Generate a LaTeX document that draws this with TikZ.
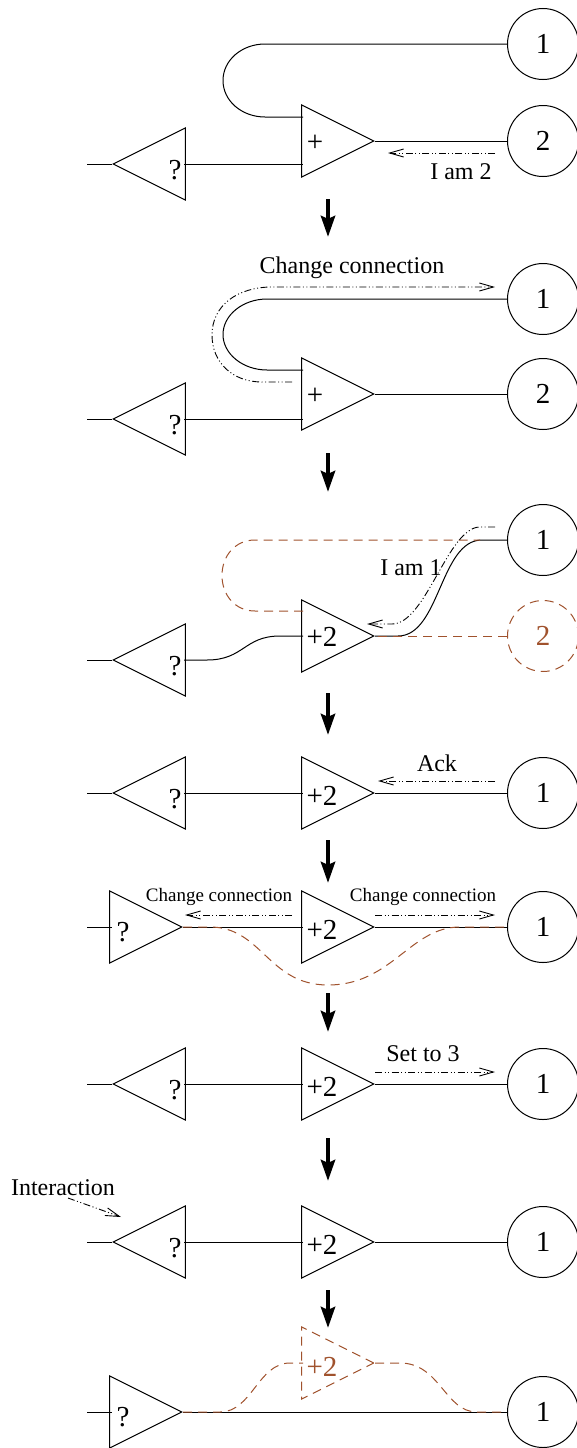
\documentclass[tikz,border=0pt]{standalone}
\usepackage{fontspec}
\setmainfont{Liberation Serif}
\usetikzlibrary{arrows.meta,shapes.geometric,calc}
\definecolor{fbrown}{RGB}{160,82,45}
\tikzset{
  wire/.style={line width=1pt},
  tri/.style={draw, line width=1pt, isosceles triangle, isosceles triangle stretches,
    minimum width=72pt, minimum height=72pt, inner sep=0pt, anchor=apex},
  trir/.style={tri, shape border rotate=0},
  tril/.style={tri, shape border rotate=180},
  circ/.style={draw, circle, line width=1pt, minimum size=71pt, inner sep=0pt,
    font=\fontsize{29}{30}\selectfont},
  lbl/.style={inner sep=0pt, font=\fontsize{29}{30}\selectfont},
  msgtext/.style={inner sep=0pt, font=\fontsize{24}{26}\selectfont},
  smalltext/.style={inner sep=0pt, font=\fontsize{19}{21}\selectfont},
  msg/.style={line width=0.9pt, dash pattern=on 7pt off 2.5pt on 1pt off 2.5pt on 1pt off 2.5pt,
    -{Straight Barb[length=14pt,width=8pt,line width=0.9pt]}},
  bdash/.style={draw=fbrown, line width=1pt, dash pattern=on 9pt off 6pt},
  bigarrow/.style={line width=4.5pt, -{Stealth[length=21pt,width=14pt,inset=3pt]}},
}
\begin{document}
\begin{tikzpicture}[x=1pt,y=-1pt]
\useasboundingbox (0,0) rectangle (577,1448);

% ---------- Panel 1 ----------
\node[circ] (c11) at (543,44) {1};
\node[circ] (c21) at (543,141) {2};
\node[trir] (p1) at (375,141) {};
\node[tril] (q1) at (112,164) {};
\node[lbl] (p1l) at (315,143) {+};
\node[lbl] (q1l) at (175,170) {?};
\coordinate (q1in) at (87,164);
\draw[wire] (q1in) -- (q1.apex);
\draw[wire] ($(q1.apex)+(72,0)$) -- ($(p1.apex)+(-72,23)$);
\draw[wire] (p1.apex) -- (c21.west);
\draw[wire] (c11.west) -- (265,44) .. controls (242,44) and (223,60) .. (223,80.5)
   .. controls (223,101) and (242,117) .. (265,117) -- ($(p1.apex)+(-72,-24)$);
\coordinate (m1s) at (495,153); \coordinate (m1e) at (388,153);
\draw[msg] (m1s) -- (m1e);
\node[msgtext] (m1l) at (461,172) {I am 2};
\coordinate (s1a) at (328,199); \coordinate (s1b) at (328,237);
\draw[bigarrow] (s1a) -- (s1b);

% ---------- Panel 2 ----------
\node[msgtext] (m2l) at (352,268) {Change connection};
\node[circ] (c12) at (543,299) {1};
\node[circ] (c22) at (543,394) {2};
\node[trir] (p2) at (375,394) {};
\node[tril] (q2) at (112,419) {};
\node[lbl] (p2l) at (315,396) {+};
\node[lbl] (q2l) at (175,425) {?};
\coordinate (q2in) at (87,419);
\draw[wire] (q2in) -- (q2.apex);
\draw[wire] ($(q2.apex)+(72,0)$) -- ($(p2.apex)+(-72,25)$);
\draw[wire] (p2.apex) -- (c22.west);
\draw[wire] (c12.west) -- (267,299) .. controls (243,299) and (223,315) .. (223,334.5)
   .. controls (223,354) and (243,370) .. (267,370) -- ($(p2.apex)+(-72,-24)$);
\coordinate (m2s) at (292,382); \coordinate (m2e) at (495,287);
\draw[msg] (m2s) -- (262,382) .. controls (232,382) and (212,362) .. (212,335)
   .. controls (212,305) and (238,287) .. (272,287) -- (m2e);
\coordinate (s2a) at (328,453); \coordinate (s2b) at (328,492);
\draw[bigarrow] (s2a) -- (s2b);

% ---------- Panel 3 ----------
\node[circ] (c13) at (543,540) {1};
\node[circ, draw=fbrown, text=fbrown, dash pattern=on 9pt off 6pt] (c23) at (543,636) {2};
\node[trir] (p3) at (375,636) {};
\node[tril] (q3) at (112,660) {};
\node[lbl] (p3l) at (322,637) {+2};
\node[lbl] (q3l) at (175,666) {?};
\coordinate (q3in) at (87,660);
\draw[wire] (q3in) -- (q3.apex);
\draw[wire] ($(q3.apex)+(72,0)$) -- (207,660) .. controls (244,660) and (244,636) .. (280,636)
   -- ($(p3.apex)+(-72,0)$);
\draw[wire] (p3.apex) -- (398,636) .. controls (440,636) and (440,540) .. (482,540) -- (c13.west);
\draw[bdash] (c23.west) -- (p3.apex);
\draw[bdash] ($(p3.apex)+(-72,-25)$) -- (255,611) .. controls (235,611) and (222,595) .. (222,575.5)
   .. controls (222,556) and (235,540) .. (255,540) -- (480,540);
\coordinate (m3s) at (495,527); \coordinate (m3e) at (367,624);
\draw[msg] (m3s) -- (480,527) .. controls (448,527) and (426,624) .. (392,624) -- (m3e);
\node[msgtext] (m3l) at (411,568) {I am 1};
\coordinate (s3a) at (328,693); \coordinate (s3b) at (328,735);
\draw[bigarrow] (s3a) -- (s3b);

% ---------- Panel 4 ----------
\node[circ] (c14) at (543,793) {1};
\node[trir] (p4) at (375,793) {};
\node[tril] (q4) at (112,793) {};
\node[lbl] (p4l) at (322,796) {+2};
\node[lbl] (q4l) at (175,799) {?};
\coordinate (q4in) at (87,793);
\draw[wire] (q4in) -- (q4.apex);
\draw[wire] ($(q4.apex)+(72,0)$) -- ($(p4.apex)+(-72,0)$);
\draw[wire] (p4.apex) -- (c14.west);
\coordinate (m4s) at (495,781); \coordinate (m4e) at (378,781);
\draw[msg] (m4s) -- (m4e);
\node[msgtext] (m4l) at (437,763) {Ack};
\coordinate (s4a) at (328,840); \coordinate (s4b) at (328,883);
\draw[bigarrow] (s4a) -- (s4b);

% ---------- Panel 5 ----------
\node[circ] (c15) at (543,927) {1};
\node[trir] (p5) at (375,927) {};
\node[trir] (q5) at (183,927) {};
\node[lbl] (p5l) at (322,930) {+2};
\node[lbl] (q5l) at (123,932) {?};
\coordinate (q5in) at (87,927);
\draw[wire] (q5in) -- ($(q5.apex)+(-71,0)$);
\draw[wire] (q5.apex) -- ($(p5.apex)+(-72,0)$);
\draw[wire] (p5.apex) -- (c15.west);
\draw[bdash] (q5.apex) -- (210,927) .. controls (262,927) and (268,985) .. (328,985)
   .. controls (392,985) and (410,927) .. (460,927) -- (c15.west);
\coordinate (m5s) at (292,915); \coordinate (m5e) at (185,915);
\draw[msg] (m5s) -- (m5e);
\node[smalltext] (m5l) at (219,897) {Change connection};
\coordinate (m6s) at (375,915); \coordinate (m6e) at (495,915);
\draw[msg] (m6s) -- (m6e);
\node[smalltext] (m6l) at (423,897) {Change connection};
\coordinate (s5a) at (328,993); \coordinate (s5b) at (328,1032);
\draw[bigarrow] (s5a) -- (s5b);

% ---------- Panel 6 ----------
\node[circ] (c16) at (543,1084) {1};
\node[trir] (p6) at (375,1084) {};
\node[tril] (q6) at (112,1084) {};
\node[lbl] (p6l) at (322,1087) {+2};
\node[lbl] (q6l) at (175,1090) {?};
\coordinate (q6in) at (87,1084);
\draw[wire] (q6in) -- (q6.apex);
\draw[wire] ($(q6.apex)+(72,0)$) -- ($(p6.apex)+(-72,0)$);
\draw[wire] (p6.apex) -- (c16.west);
\coordinate (m7s) at (375,1072); \coordinate (m7e) at (495,1072);
\draw[msg] (m7s) -- (m7e);
\node[msgtext] (m7l) at (423,1054) {Set to 3};
\coordinate (s6a) at (328,1138); \coordinate (s6b) at (328,1181);
\draw[bigarrow] (s6a) -- (s6b);

% ---------- Panel 7 ----------
\node[circ] (c17) at (543,1242) {1};
\node[trir] (p7) at (375,1242) {};
\node[tril] (q7) at (112,1242) {};
\node[lbl] (p7l) at (322,1245) {+2};
\node[lbl] (q7l) at (175,1248) {?};
\coordinate (q7in) at (87,1242);
\draw[wire] (q7in) -- (q7.apex);
\draw[wire] ($(q7.apex)+(72,0)$) -- ($(p7.apex)+(-72,0)$);
\draw[wire] (p7.apex) -- (c17.west);
\node[msgtext] (m8l) at (63,1188) {Interaction};
\coordinate (m8s) at (68,1198); \coordinate (m8e) at (121,1217);
\draw[msg] (m8s) -- (m8e);
\coordinate (s7a) at (328,1290); \coordinate (s7b) at (328,1328);
\draw[bigarrow] (s7a) -- (s7b);

% ---------- Panel 8 ----------
\node[circ] (c18) at (543,1412) {1};
\node[trir] (q8) at (183,1412) {};
\node[trir, draw=fbrown, dash pattern=on 9pt off 6pt] (p8) at (375,1363) {};
\node[lbl, text=fbrown] (p8l) at (322,1367) {+2};
\node[lbl] (q8l) at (123,1417) {?};
\coordinate (q8in) at (87,1412);
\draw[wire] (q8in) -- ($(q8.apex)+(-71,0)$);
\draw[wire] (q8.apex) -- (c18.west);
\draw[bdash] (q8.apex) -- (220,1412) .. controls (252,1412) and (258,1363) .. (290,1363)
   -- ($(p8.apex)+(-72,0)$);
\draw[bdash] (p8.apex) -- (400,1363) .. controls (440,1363) and (445,1412) .. (477,1412) -- (c18.west);
\end{tikzpicture}
\end{document}
